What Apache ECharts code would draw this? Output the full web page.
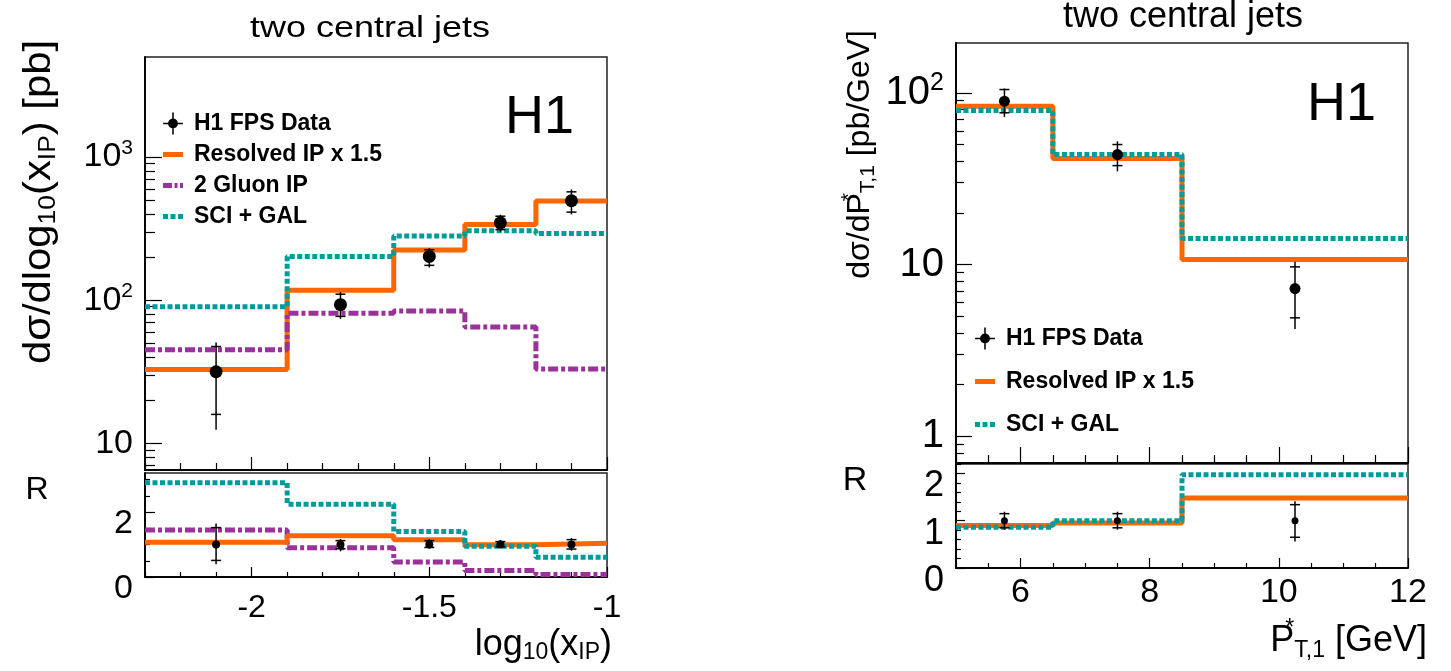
<!DOCTYPE html>
<html>
<head>
<meta charset="utf-8">
<script src="https://cdn.jsdelivr.net/npm/echarts@6/dist/echarts.min.js"></script>
<style>
html, body { margin: 0; padding: 0; background: #fff; }
#main { width: 1451px; height: 671px; }
</style>
</head>
<body>
<div id="main"></div>
<script>
'use strict';

/* ===== left panel : log10(x_IP) ===== */
var xipEdges = [-2.3, -1.9, -1.6, -1.4, -1.2, -1.0];
var xipCenters = [-2.1, -1.75, -1.5, -1.3, -1.1];
var xipData = [31.6, 93, 202, 347, 495];
var xipTotLo = [12.4, 74, 169, 301, 397];
var xipTotHi = [50.6, 114, 231, 395, 593];
var xipStatLo = [15.9, 77, 175, 311, 412];
var xipStatHi = [47.4, 110, 225, 386, 571];
var xipResolved = [32.8, 117, 224, 337, 492];
var xipGluon = [45, 81, 84, 65, 33];
var xipSciGal = [90, 202, 281, 305, 292];

var xipRatioData = [1, 1, 1, 1, 1];
var xipRatioTotLo = [0.39, 0.79, 0.87, 0.90, 0.81];
var xipRatioTotHi = [1.65, 1.17, 1.17, 1.14, 1.20];
var xipRatioStatLo = [0.51, 0.87, 0.91, 0.93, 0.86];
var xipRatioStatHi = [1.52, 1.12, 1.12, 1.09, 1.15];
var xipRatioResolved = [1.07, 1.27, 1.15, 0.99, 1.04];
var xipRatioGluon = [1.45, 0.90, 0.46, 0.20, 0.08];
var xipRatioSciGal = [2.9, 2.24, 1.40, 0.95, 0.61];

/* ===== right panel : P*_T,1 ===== */
var ptEdges = [5, 6.5, 8.5, 12];
var ptCenters = [5.75, 7.5, 10.25];
var ptData = [89.4, 43.7, 7.25];
var ptTotLo = [72.4, 34.9, 4.22];
var ptTotHi = [106, 52.2, 10.4];
var ptStatLo = [76.5, 37.7, 4.9];
var ptStatHi = [104.5, 50, 9.7];
var ptResolved = [83.6, 41.4, 10.7];
var ptSciGal = [78.9, 43.7, 14.2];

var ptRatioData = [1, 1, 1];
var ptRatioTotLo = [0.81, 0.81, 0.56];
var ptRatioTotHi = [1.19, 1.19, 1.41];
var ptRatioStatLo = [0.85, 0.85, 0.65];
var ptRatioStatHi = [1.15, 1.15, 1.34];
var ptRatioResolved = [0.90, 0.95, 1.48];
var ptRatioSciGal = [0.86, 1.0, 1.97];

/* ===== ticks ===== */
var xipMajor = [-2, -1.5, -1];
var xipMinor = [-2.3, -2.2, -2.1, -1.9, -1.8, -1.7, -1.6, -1.4, -1.3, -1.2, -1.1];
var ptMajor = [6, 8, 10, 12];
var ptMinor = [5, 5.5, 6.5, 7, 7.5, 8.5, 9, 9.5, 10.5, 11, 11.5];
var xsecLeftMajor = [10, 100, 1000];
var xsecRightMajor = [1, 10, 100];
var ratioLeftMajor = [0, 2];
var ratioLeftMinor = [0.5, 1, 1.5, 2.5, 3];
var ratioRightMajor = [0, 1, 2];
var ratioRightMinor = [0.2, 0.4, 0.6, 0.8, 1.2, 1.4, 1.6, 1.8, 2.2];

var FONT = '"Liberation Sans", Arial, sans-serif';
var ORANGE = '#ff6600';
var TEAL = '#009c99';
var PURPLE = '#993399';

function logMinor(from, to) {
  var out = [];
  for (var d = from; d < to; d *= 10) {
    for (var k = 2; k <= 9; k++) out.push(k * d);
  }
  return out;
}

function steps(edges, vals) {
  var pts = [];
  for (var i = 0; i < vals.length; i++) pts.push([edges[i], vals[i]]);
  pts.push([edges[edges.length - 1], vals[vals.length - 1]]);
  return pts;
}

function points(xs, ys, lo, hi, slo, shi) {
  return xs.map(function (x, i) { return [x, ys[i], lo[i], hi[i], slo[i], shi[i]]; });
}

function errorBars(radius, cap) {
  return function (params, api) {
    var x = api.value(0);
    var c = api.coord([x, api.value(1)]);
    var lo = api.coord([x, api.value(2)]);
    var hi = api.coord([x, api.value(3)]);
    var slo = api.coord([x, api.value(4)]);
    var shi = api.coord([x, api.value(5)]);
    var st = { stroke: '#000', lineWidth: 1.5 };
    return {
      type: 'group',
      children: [
        { type: 'line', shape: { x1: c[0], y1: hi[1], x2: c[0], y2: lo[1] }, style: st },
        { type: 'line', shape: { x1: c[0] - cap, y1: shi[1], x2: c[0] + cap, y2: shi[1] }, style: st },
        { type: 'line', shape: { x1: c[0] - cap, y1: slo[1], x2: c[0] + cap, y2: slo[1] }, style: st },
        { type: 'circle', shape: { cx: c[0], cy: c[1], r: radius }, style: { fill: '#000' } }
      ]
    };
  };
}

function logLabel(v) {
  if (v === 1) return '{b|1}';
  if (v === 10) return '{b|10}';
  return '{b|10}{sup|' + Math.round(Math.log10(v)) + '}';
}

function axisX(grid, min, max, ticks, len, labels, fontSize, margin) {
  return {
    type: 'value', gridIndex: grid, position: 'bottom', min: min, max: max,
    axisLine: { show: true, onZero: false, lineStyle: { color: '#000', width: 1.5 } },
    axisTick: { show: true, inside: true, length: len, customValues: ticks, lineStyle: { color: '#000', width: 1.2 } },
    axisLabel: labels ? {
      show: true, customValues: labels, margin: margin, color: '#000', fontFamily: FONT, fontSize: fontSize
    } : { show: false },
    splitLine: { show: false }
  };
}

function axisY(grid, type, min, max, ticks, len, labels, fontSize, fmt, pad) {
  return {
    type: type, gridIndex: grid, position: 'left', min: min, max: max,
    axisLine: { show: true, lineStyle: { color: '#000', width: 1.5 } },
    axisTick: { show: true, inside: true, length: len, customValues: ticks, lineStyle: { color: '#000', width: 1.2 } },
    axisLabel: labels ? {
      show: true, customValues: labels, margin: 12, color: '#000', fontFamily: FONT, fontSize: fontSize,
      padding: pad || 0,
      formatter: fmt,
      rich: {
        b: { fontFamily: FONT, fontSize: fontSize, color: '#000' },
        sup: { fontFamily: FONT, fontSize: Math.round(fontSize * 0.62), color: '#000', padding: [0, 0, Math.round(fontSize * 0.5), 0] }
      }
    } : { show: false },
    splitLine: { show: false }
  };
}

// legend icons
var dataIcon = 'path://M9.3,0h1.4v20h-1.4z M1,9.3h18v1.4h-18z M14.5,10a4.5,4.5 0 1,1 -9,0a4.5,4.5 0 1,1 9,0z';
var solidIcon = 'path://M0,0h20v5h-20z';
var dashDotIcon = 'path://M0,0h9v5h-9z M11.5,0h3v5h-3z M17,0h3v5h-3z';
var dottedIcon = 'path://M0,0h5v5h-5z M7.5,0h5v5h-5z M15,0h5v5h-5z';

function histLine(name, color, dash, x, y, data, z) {
  return {
    name: name, type: 'line', step: 'end', xAxisIndex: x, yAxisIndex: y,
    data: data, symbol: 'none', z: z || 2, silent: true,
    lineStyle: { color: color, width: 5, type: dash },
    itemStyle: { color: color }
  };
}

var teal = [5, 2.5];
var dashDot = [10, 3, 4, 3];

var legendText = { fontFamily: FONT, fontSize: 23, fontWeight: 'bold', color: '#000', padding: [2, 0, 0, 6] };

var myChart = echarts.init(document.getElementById('main'));

var option = {
  animation: false,
  backgroundColor: '#fff',
  grid: [
    { left: 145, top: 57, width: 462, height: 413, show: true, borderColor: '#222', borderWidth: 1.5 },
    { left: 145, top: 473, width: 462, height: 104, show: true, borderColor: '#222', borderWidth: 1.5 },
    { left: 956, top: 43, width: 452, height: 420, show: true, borderColor: '#222', borderWidth: 1.5 },
    { left: 956, top: 464, width: 452, height: 104, show: true, borderColor: '#222', borderWidth: 1.5 }
  ],
  xAxis: [
    axisX(0, -2.3, -1, xipMajor, 13, null),
    axisX(0, -2.3, -1, xipMinor, 7, null),
    axisX(1, -2.3, -1, xipMajor, 10, xipMajor, 32, 15),
    axisX(1, -2.3, -1, xipMinor, 5, null),
    axisX(2, 5, 12, ptMajor, 16, null),
    axisX(2, 5, 12, ptMinor, 8, null),
    axisX(3, 5, 12, ptMajor, 10, ptMajor, 34, 8),
    axisX(3, 5, 12, ptMinor, 5, null)
  ],
  yAxis: [
    axisY(0, 'log', 6.5, 5000, xsecLeftMajor, 17, xsecLeftMajor, 34, logLabel),
    axisY(0, 'log', 6.5, 5000, logMinor(1, 1000), 10, null),
    axisY(1, 'value', 0, 3.2, ratioLeftMajor, 10, ratioLeftMajor, 34, function (v) { return '{b|' + v + '}'; }, [24, 0, 0, 0]),
    axisY(1, 'value', 0, 3.2, ratioLeftMinor, 5, null),
    axisY(2, 'log', 0.7, 195, xsecRightMajor, 16, xsecRightMajor, 40, logLabel),
    axisY(2, 'log', 0.7, 195, logMinor(0.1, 100), 8, null),
    axisY(3, 'value', 0, 2.2, ratioRightMajor, 9, ratioRightMajor, 36, function (v) { return '{b|' + v + '}'; }, [26, 0, 0, 0]),
    axisY(3, 'value', 0, 2.2, ratioRightMinor, 5, null)
  ],
  legend: [
    {
      orient: 'vertical', left: 163, top: 112, padding: 0, itemGap: 8, itemWidth: 20, itemHeight: 22,
      selectedMode: false, textStyle: legendText,
      data: [
        { name: 'H1 FPS Data', icon: dataIcon, itemStyle: { color: '#000' } },
        { name: 'Resolved IP x 1.5', icon: solidIcon, itemStyle: { color: ORANGE } },
        { name: '2 Gluon IP', icon: dashDotIcon, itemStyle: { color: PURPLE } },
        { name: 'SCI + GAL', icon: dottedIcon, itemStyle: { color: TEAL } }
      ]
    },
    {
      orient: 'vertical', left: 975, top: 327, padding: 0, itemGap: 20, itemWidth: 20, itemHeight: 22,
      selectedMode: false, textStyle: legendText,
      data: [
        { name: 'H1 FPS Data', icon: dataIcon, itemStyle: { color: '#000' } },
        { name: 'Resolved IP x 1.5', icon: solidIcon, itemStyle: { color: ORANGE } },
        { name: 'SCI + GAL', icon: dottedIcon, itemStyle: { color: TEAL } }
      ]
    }
  ],
  series: [
    // left main
    histLine('Resolved IP x 1.5', ORANGE, 'solid', 0, 0, steps(xipEdges, xipResolved), 2),
    histLine('2 Gluon IP', PURPLE, dashDot, 0, 0, steps(xipEdges, xipGluon), 3),
    histLine('SCI + GAL', TEAL, teal, 0, 0, steps(xipEdges, xipSciGal), 4),
    {
      name: 'H1 FPS Data', type: 'custom', xAxisIndex: 0, yAxisIndex: 0, z: 10,
      renderItem: errorBars(6.5, 5), encode: { x: 0, y: 1 },
      itemStyle: { color: '#000' },
      data: points(xipCenters, xipData, xipTotLo, xipTotHi, xipStatLo, xipStatHi)
    },
    // left ratio
    histLine('2 Gluon IP', PURPLE, dashDot, 2, 2, steps(xipEdges, xipRatioGluon), 2),
    histLine('Resolved IP x 1.5', ORANGE, 'solid', 2, 2, steps(xipEdges, xipRatioResolved), 3),
    histLine('SCI + GAL', TEAL, teal, 2, 2, steps(xipEdges, xipRatioSciGal), 4),
    {
      name: 'H1 FPS Data', type: 'custom', xAxisIndex: 2, yAxisIndex: 2, z: 10,
      renderItem: errorBars(4, 5), encode: { x: 0, y: 1 },
      itemStyle: { color: '#000' },
      data: points(xipCenters, xipRatioData, xipRatioTotLo, xipRatioTotHi, xipRatioStatLo, xipRatioStatHi)
    },
    // right main
    histLine('Resolved IP x 1.5', ORANGE, 'solid', 4, 4, steps(ptEdges, ptResolved), 2),
    histLine('SCI + GAL', TEAL, teal, 4, 4, steps(ptEdges, ptSciGal), 3),
    {
      name: 'H1 FPS Data', type: 'custom', xAxisIndex: 4, yAxisIndex: 4, z: 10,
      renderItem: errorBars(5.5, 5), encode: { x: 0, y: 1 },
      itemStyle: { color: '#000' },
      data: points(ptCenters, ptData, ptTotLo, ptTotHi, ptStatLo, ptStatHi)
    },
    // right ratio
    histLine('Resolved IP x 1.5', ORANGE, 'solid', 6, 6, steps(ptEdges, ptRatioResolved), 2),
    histLine('SCI + GAL', TEAL, teal, 6, 6, steps(ptEdges, ptRatioSciGal), 3),
    {
      name: 'H1 FPS Data', type: 'custom', xAxisIndex: 6, yAxisIndex: 6, z: 10,
      renderItem: errorBars(3.5, 5), encode: { x: 0, y: 1 },
      itemStyle: { color: '#000' },
      data: points(ptCenters, ptRatioData, ptRatioTotLo, ptRatioTotHi, ptRatioStatLo, ptRatioStatHi)
    }
  ],
  graphic: [
    { type: 'text', x: 370, y: 29, scaleX: 1.2, style: { text: 'two central jets', fontFamily: FONT, fontSize: 30, fill: '#000', align: 'center', verticalAlign: 'middle' } },
    { type: 'text', x: 1183, y: 17, style: { text: 'two central jets', fontFamily: FONT, fontSize: 36, fill: '#000', align: 'center', verticalAlign: 'middle' } },
    { type: 'text', x: 505, y: 118, style: { text: 'H1', fontFamily: FONT, fontSize: 54, fill: '#000', align: 'left', verticalAlign: 'middle' } },
    { type: 'text', x: 1307, y: 105, style: { text: 'H1', fontFamily: FONT, fontSize: 54, fill: '#000', align: 'left', verticalAlign: 'middle' } },
    { type: 'text', x: 37, y: 490, style: { text: 'R', fontFamily: FONT, fontSize: 32, fill: '#000', align: 'center', verticalAlign: 'middle' } },
    { type: 'text', x: 855, y: 481, style: { text: 'R', fontFamily: FONT, fontSize: 34, fill: '#000', align: 'center', verticalAlign: 'middle' } },
    {
      type: 'text', x: 40, y: 40, rotation: Math.PI / 2, scaleX: 1.1,
      style: {
        text: '{n|d\u03c3/dlog}{s|10}{n|(x}{s|IP}{n|) [pb]}', align: 'right', verticalAlign: 'middle',
        rich: {
          n: { fontFamily: FONT, fontSize: 38, fill: '#000' },
          s: { fontFamily: FONT, fontSize: 24, fill: '#000', padding: [16, 0, 0, 0] }
        }
      }
    },
    {
      type: 'text', x: 860, y: 30, rotation: Math.PI / 2,
      style: {
        text: '{n|d\u03c3/dP}{p|*}{s|T,1}{n| [pb/GeV]}', align: 'right', verticalAlign: 'middle',
        rich: {
          n: { fontFamily: FONT, fontSize: 32, fill: '#000' },
          p: { fontFamily: FONT, fontSize: 21, fill: '#000', padding: [0, 0, 22, 0], width: 0 },
          s: { fontFamily: FONT, fontSize: 21, fill: '#000', padding: [16, 0, 0, 0] }
        }
      }
    },
    {
      type: 'text', x: 612, y: 645,
      style: {
        text: '{n|log}{s|10}{n|(x}{s|IP}{n|)}', align: 'right', verticalAlign: 'middle',
        rich: {
          n: { fontFamily: FONT, fontSize: 36, fill: '#000' },
          s: { fontFamily: FONT, fontSize: 23, fill: '#000', padding: [16, 0, 0, 0] }
        }
      }
    },
    {
      type: 'text', x: 1427, y: 641,
      style: {
        text: '{n|P}{p|*}{s|T,1}{n| [GeV]}', align: 'right', verticalAlign: 'middle',
        rich: {
          n: { fontFamily: FONT, fontSize: 36, fill: '#000' },
          p: { fontFamily: FONT, fontSize: 23, fill: '#000', padding: [0, 0, 24, 0], width: 0 },
          s: { fontFamily: FONT, fontSize: 23, fill: '#000', padding: [20, 0, 0, 0] }
        }
      }
    }
  ]
};

myChart.setOption(option);
</script>
</body>
</html>
